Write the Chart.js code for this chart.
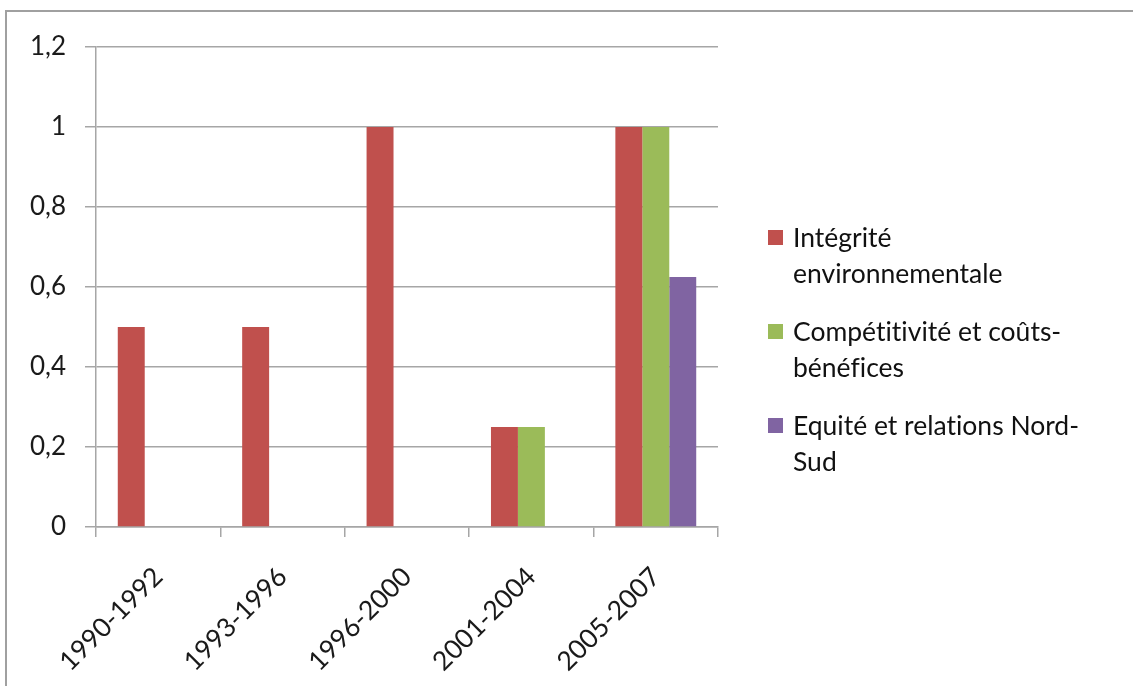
<!DOCTYPE html>
<html>
<head>
<meta charset="utf-8">
<script src="https://cdn.jsdelivr.net/npm/chart.js@4"></script>
<style>
  html, body { margin: 0; padding: 0; background: #fff; }
  #wrap { position: relative; width: 1133px; height: 686px; overflow: hidden; }
  #frame { position: absolute; left: 5px; top: 10px; right: -10px; bottom: -10px;
           border-left: 2px solid #a0a0a0; border-top: 2px solid #a0a0a0; }
  #chart { position: absolute; left: 0; top: 0; }
  #legend { position: absolute; left: 768px; top: 219px;
            font-family: Lato, "Open Sans", sans-serif; font-size: 26.5px; color: #111;
            font-variant-ligatures: none; }
  .item { display: flex; align-items: flex-start; margin-bottom: 22px; line-height: 36px; }
  .sw { width: 15px; height: 15px; margin: 11px 10px 0 0; flex: none; }
  .txt { width: 310px; }
</style>
</head>
<body>
<div id="wrap">
  <div id="frame"></div>
  <canvas id="chart" width="1133" height="686"></canvas>
  <div id="legend"></div>
</div>
<script>
// ── Data ─────────────────────────────────────────────────────
const categories    = ['1990-1992', '1993-1996', '1996-2000', '2001-2004', '2005-2007'];
const seriesNames   = ['Intégrité environnementale', 'Compétitivité et coûts-bénéfices', 'Equité et relations Nord-Sud'];
const integrite     = [0.5, 0.5, 1, 0.25, 1];
const competitivite = [0, 0, 0, 0.25, 1];
const equite        = [0, 0, 0, 0, 0.625];
const yTicks        = [0, 0.2, 0.4, 0.6, 0.8, 1, 1.2];
const seriesColors  = ['#C0504D', '#9BBB59', '#8064A2'];

const FONT = 'Lato, "Open Sans", sans-serif';
const GRID = '#a6a6a6';

// ── Legend (HTML, right side) ────────────────────────────────
const legendEl = document.getElementById('legend');
seriesNames.forEach((name, i) => {
  const div = document.createElement('div');
  div.className = 'item';
  div.innerHTML = `<span class="sw" style="background:${seriesColors[i]}"></span><span class="txt">${name}</span>`;
  legendEl.appendChild(div);
});

// ── Chart ────────────────────────────────────────────────────
const seriesData = [integrite, competitivite, equite];
new Chart(document.getElementById('chart'), {
  type: 'bar',
  data: {
    labels: categories,
    datasets: seriesNames.map((n, i) => ({
      label: n,
      data: seriesData[i],
      backgroundColor: seriesColors[i],
      borderWidth: 0,
      categoryPercentage: 0.65,
      barPercentage: 1,
    }))
  },
  options: {
    responsive: false,
    animation: false,
    layout: { padding: { top: 47, right: 1133 - 718, left: 0, bottom: 0 } },
    plugins: { legend: { display: false }, tooltip: { enabled: false } },
    scales: {
      x: {
        grid: { offset: true, drawOnChartArea: false, drawTicks: true, tickLength: 10, color: GRID, lineWidth: 1.5 },
        border: { color: GRID, width: 1.5 },
        ticks: { minRotation: 45, maxRotation: 45, padding: 24, color: '#1a1a1a', font: { family: FONT, size: 26.5 } },
        afterFit: s => { s.height = 686 - 527; }
      },
      y: {
        min: 0, max: 1.2,
        afterBuildTicks: s => { s.ticks = yTicks.map(v => ({ value: v })); },
        grid: { color: GRID, lineWidth: 1.5, tickLength: 11 },
        border: { color: GRID, width: 1.5 },
        ticks: {
          padding: 19, color: '#1a1a1a', font: { family: FONT, size: 26 },
          callback: v => String(Math.round(v * 10) / 10).replace('.', ',')
        },
        afterFit: s => { s.width = 96; }
      }
    }
  }
});
</script>
</body>
</html>
